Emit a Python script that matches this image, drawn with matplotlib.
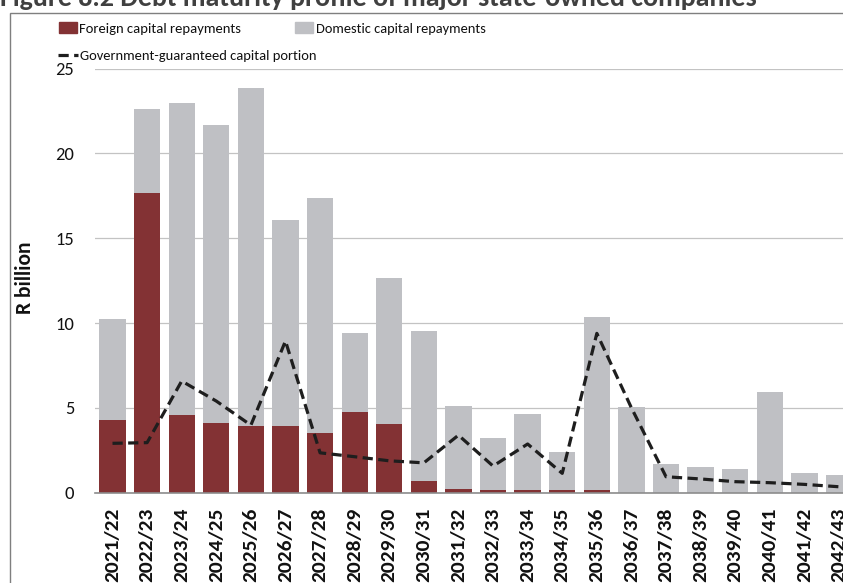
import matplotlib
matplotlib.use("Agg")
import matplotlib.pyplot as plt
import numpy as np
from matplotlib import font_manager
from matplotlib.patches import Rectangle
from matplotlib.lines import Line2D

categories = ["2021/22", "2022/23", "2023/24", "2024/25", "2025/26", "2026/27",
              "2027/28", "2028/29", "2029/30", "2030/31", "2031/32", "2032/33",
              "2033/34", "2034/35", "2035/36", "2036/37", "2037/38", "2038/39",
              "2039/40", "2040/41", "2041/42", "2042/43"]
foreign = [4.28, 17.66, 4.56, 4.09, 3.93, 3.92, 3.49, 4.73, 4.04, 0.69, 0.22,
           0.16, 0.16, 0.16, 0.16, 0.0, 0.0, 0.0, 0.0, 0.0, 0.0, 0.0]
domestic = [5.94, 4.95, 18.39, 17.58, 19.90, 12.18, 13.90, 4.66, 8.59, 8.82, 4.88,
            3.08, 4.48, 2.22, 10.18, 5.07, 1.69, 1.53, 1.40, 5.93, 1.14, 1.02]
guaranteed = [2.91, 2.95, 6.58, 5.40, 3.98, 8.94, 2.35, 2.12, 1.88, 1.76, 3.39,
              1.57, 2.87, 1.14, 9.39, 5.00, 0.94, 0.81, 0.65, 0.59, 0.49, 0.35]
yticks = [0, 5, 10, 15, 20, 25]

title = "Figure 8.2 Debt maturity profile of major state-owned companies"
leg_foreign = "Foreign capital repayments"
leg_domestic = "Domestic capital repayments"
leg_guar = "Government-guaranteed capital portion"

available = {f.name for f in font_manager.fontManager.ttflist}
def pick(*names):
    for n in names:
        if n in available:
            return n
    return "DejaVu Sans"

FONT = pick("Carlito", "Liberation Sans")
plt.rcParams["font.family"] = [FONT, "DejaVu Sans"]

RED = "#833234"
GRAY = "#bfc0c4"

W, H = 843, 583
fig = plt.figure(figsize=(W / 100, H / 100), dpi=100)

def fx(px):
    return px / W
def fy(py):
    return 1 - py / H

left, right = 95.2, 856.3
top, bottom = 68.5, 492.7
ax = fig.add_axes([fx(left), fy(bottom), fx(right) - fx(left), (bottom - top) / H])

x = np.arange(len(categories))
ax.bar(x, foreign, width=0.76, color=RED, zorder=2)
ax.bar(x, domestic, width=0.76, bottom=foreign, color=GRAY, zorder=2)
dash_line, = ax.plot(x, guaranteed, color="#1e1e1e", lw=2.3, zorder=3,
                     dash_capstyle="butt")
dash_line.set_dashes([3.2, 1.7])

ax.set_xlim(-0.5, len(categories) - 0.5)
ax.set_ylim(0, 25)
ax.set_yticks(yticks)
ax.set_yticklabels([str(v) for v in yticks], fontsize=13.3, color="#111111")
ax.set_xticks(x)
ax.set_xticklabels(categories, rotation=90, fontweight="bold",
                   fontsize=15.4, va="top", ha="center", color="#111111")
ax.tick_params(axis="x", length=0, pad=11)
ax.tick_params(axis="y", length=0, pad=15)
ax.grid(axis="y", color="#c3c3c3", lw=0.9, zorder=0)
ax.set_axisbelow(True)
for s in ["top", "right", "left"]:
    ax.spines[s].set_visible(False)
ax.spines["bottom"].set_color("#8c8c8c")
ax.spines["bottom"].set_linewidth(1.2)
ax.set_ylabel("R billion", fontweight="bold", fontsize=15.5, va="center", color="#111111")
ax.yaxis.set_label_coords((25 - left) / (right - left), (bottom - 278) / (bottom - top))

# outer frame of the figure panel
fig.add_artist(Rectangle((fx(9.7), -0.1), 2, fy(13) + 0.1, transform=fig.transFigure,
                         fill=False, edgecolor="#7f7f7f", lw=1.0))

renderer = fig.canvas.get_renderer()
def fit_text(xp, yp, s, target_w, scale=1.0, **kw):
    t = fig.text(fx(xp), fy(yp), s, **kw)
    size = t.get_fontsize()
    for _ in range(3):
        w = t.get_window_extent(renderer=renderer).width
        size = size * target_w / w
        t.set_fontsize(size)
    t.set_fontsize(size * scale)
    return t

# title (cropped at the top, as in the reference)
fit_text(0, 6, title, 757, fontweight="bold", color="#404040",
         va="baseline", ha="left", fontsize=18)

# legend
fig.add_artist(Rectangle((fx(59.3), fy(33.3)), fx(77.3) - fx(59.3), fy(21.7) - fy(33.3),
                         transform=fig.transFigure, color=RED))
fig.add_artist(Rectangle((fx(295), fy(33.3)), fx(313) - fx(295), fy(21.7) - fy(33.3),
                         transform=fig.transFigure, color=GRAY))
fit_text(79, 28, leg_foreign, 143, scale=1.13, va="center_baseline", ha="left",
         fontsize=13, color="#111111")
fit_text(316, 28, leg_domestic, 152, scale=1.13, va="center_baseline", ha="left",
         fontsize=13, color="#111111")
lg = Line2D([fx(58), fx(78)], [fy(55), fy(55)], transform=fig.transFigure,
            color="#1e1e1e", lw=2.3)
lg.set_dashes([3.2, 1.7])
fig.add_artist(lg)
fit_text(80, 55, leg_guar, 210, scale=1.13, va="center_baseline", ha="left",
         fontsize=13, color="#111111")

fig.savefig("out.png", dpi=100)
